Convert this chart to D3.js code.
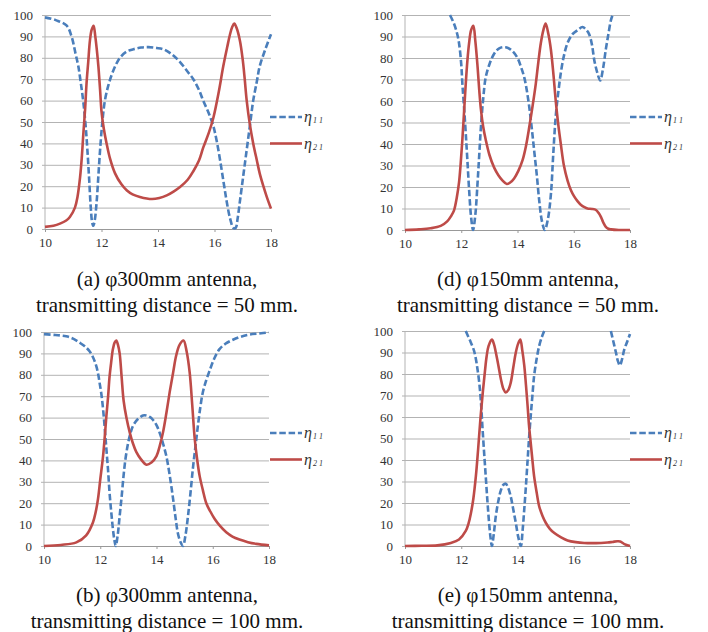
<!DOCTYPE html>
<html>
<head>
<meta charset="utf-8">
<script src="https://cdn.jsdelivr.net/npm/d3@7"></script>
<style>
  body { margin: 0; background: #fff; }
  svg { display: block; }
</style>
</head>
<body>
<div id="chart"></div>
<script>
// frequency axis and efficiency axis
var xTicks = [10, 12, 14, 16, 18];
var yTicks = [0, 10, 20, 30, 40, 50, 60, 70, 80, 90, 100];
var legendNames = ['1 1', '2 1'];

// (a) φ300mm, 50 mm
var aEta11 = [[10,98.9],[10.4,97.5],[10.77,95],[10.94,90],[11.08,82],[11.18,76],[11.27,68],[11.36,59],[11.44,48],[11.5,37],[11.56,24],[11.62,10],[11.67,3],[11.71,1.5],[11.76,4],[11.83,13],[11.89,25],[11.95,37],[12.03,50],[12.12,60],[12.24,67],[12.36,72],[12.5,76.5],[12.65,80],[12.9,83],[13.13,84],[13.4,84.8],[13.66,85],[13.95,84.6],[14.19,84],[14.5,81.5],[14.78,78],[15.05,73.5],[15.25,70],[15.45,65],[15.6,60],[15.8,54],[15.96,48],[16.08,41],[16.2,32],[16.32,22],[16.43,13],[16.55,5],[16.67,0.5],[16.75,0.5],[16.82,5],[16.9,13],[17.02,25],[17.14,37],[17.26,49],[17.37,60],[17.5,69],[17.6,76],[17.8,84],[18,91]];
var aEta21 = [[10,1],[10.3,1.5],[10.53,2.5],[10.75,4],[10.88,5.6],[11.06,10],[11.15,15],[11.24,24],[11.3,33],[11.36,45],[11.42,56],[11.47,68],[11.53,78],[11.59,88],[11.65,93],[11.72,95],[11.78,90],[11.84,83],[11.89,76],[11.95,65],[12.0,55],[12.08,47],[12.18,40],[12.3,33],[12.48,26],[12.7,21],[12.9,18],[13.1,16.2],[13.36,15],[13.78,14],[14.05,14.5],[14.31,15.7],[14.55,17.5],[14.78,19.6],[15.05,23],[15.25,27],[15.45,32],[15.6,38],[15.8,45],[15.96,52],[16.15,64],[16.31,76],[16.45,85],[16.55,91],[16.63,94.5],[16.7,96],[16.78,94],[16.9,88],[17.0,79],[17.07,70],[17.14,60],[17.25,49],[17.37,40],[17.5,32],[17.6,26],[17.73,20],[17.85,15],[18,9.5]];

// (d) φ150mm, 50 mm
var dEta11 = [[11.6,100],[11.74,96],[11.84,92],[11.92,87],[12.0,77],[12.04,68],[12.1,57],[12.16,45],[12.22,32],[12.28,18.6],[12.35,6],[12.42,0],[12.5,7],[12.58,22],[12.64,35],[12.7,48],[12.78,61],[12.87,71],[13.0,77],[13.17,82],[13.35,84.5],[13.58,85],[13.8,83.5],[14.0,80],[14.12,76],[14.24,71],[14.33,65],[14.42,57],[14.51,47],[14.6,36],[14.69,25],[14.77,14],[14.87,4],[14.97,0],[15.08,5],[15.19,17],[15.27,35],[15.36,53],[15.45,64],[15.54,73],[15.65,81],[15.78,87],[15.95,91],[16.14,93],[16.31,94.4],[16.45,93],[16.55,91],[16.65,86],[16.73,79],[16.84,73],[16.94,69.5],[17.04,75],[17.14,84],[17.23,91],[17.32,97.5],[17.38,100]];
var dEta21 = [[10,0],[10.5,0.3],[10.91,0.8],[11.27,1.9],[11.5,4],[11.64,6.5],[11.74,9],[11.84,15],[11.92,22],[11.98,31],[12.04,42],[12.1,55],[12.16,68],[12.22,79],[12.28,87],[12.35,93],[12.43,95],[12.5,88],[12.58,76],[12.64,65],[12.7,56],[12.78,48],[12.87,42],[13.0,35],[13.17,29],[13.32,25.5],[13.47,23],[13.62,21.4],[13.75,22.2],[13.88,24],[14.03,27.5],[14.18,32.5],[14.3,39],[14.42,48],[14.54,58],[14.65,68],[14.74,78],[14.83,87],[14.92,93],[15.0,96],[15.1,91],[15.19,83.6],[15.28,72],[15.36,60],[15.45,49],[15.54,40],[15.65,30],[15.78,23],[15.9,18.5],[16.02,15.5],[16.14,13.3],[16.26,11.6],[16.38,10.6],[16.49,10],[16.65,9.8],[16.79,9.3],[16.88,8],[16.97,6],[17.05,3.5],[17.14,1.5],[17.23,0.6],[17.32,0.3],[17.6,0],[18,0]];

// (b) φ300mm, 100 mm
var bEta11 = [[10,99],[10.4,98.6],[10.79,98],[11.05,96.8],[11.27,95],[11.45,93.3],[11.62,91],[11.75,88],[11.86,84],[11.93,80],[11.98,76],[12.04,71],[12.1,64],[12.16,55],[12.22,45],[12.28,35],[12.33,25],[12.39,16],[12.45,8],[12.5,3],[12.55,0],[12.62,5],[12.69,14],[12.76,23],[12.83,33],[12.9,41],[12.99,48],[13.08,53],[13.16,56],[13.28,58.5],[13.4,60],[13.52,61],[13.64,61],[13.76,60.3],[13.87,59],[14.0,56.5],[14.11,53],[14.23,48],[14.35,42],[14.47,33],[14.59,22],[14.68,13],[14.76,6],[14.85,2],[14.94,0],[15.03,5],[15.12,14],[15.21,25],[15.3,37],[15.39,47],[15.47,56],[15.56,65],[15.65,72],[15.77,77.5],[15.89,82],[16.05,87.5],[16.24,92],[16.45,94.5],[16.72,96.4],[17.0,97.8],[17.31,98.8],[17.65,99.3],[18,99.8]];
var bEta21 = [[10,0],[10.6,0.5],[11.15,1.7],[11.5,5],[11.74,11],[11.84,16],[11.92,22],[12.0,31],[12.1,42],[12.16,51],[12.22,61],[12.28,70],[12.33,79],[12.39,86],[12.45,92],[12.51,95],[12.57,96],[12.63,94],[12.69,90],[12.76,79],[12.83,68],[12.93,60],[13.05,53],[13.16,48],[13.28,44],[13.45,40.5],[13.64,38],[13.82,39],[14.0,42],[14.12,47],[14.23,53],[14.35,62],[14.47,72],[14.59,81],[14.7,89],[14.82,94],[14.96,96],[15.07,91],[15.18,81],[15.27,66],[15.36,50],[15.44,41],[15.53,33],[15.65,26],[15.77,20],[15.92,16],[16.07,12.6],[16.25,9.5],[16.48,6.4],[16.7,4.4],[16.95,3],[17.25,1.8],[17.55,1],[18,0.3]];

// (e) φ150mm, 100 mm  (null = curve above 100, off the chart)
var eEta11 = [[12.16,100],[12.34,94.7],[12.45,91],[12.52,87],[12.58,82],[12.64,76],[12.7,67],[12.75,56],[12.81,44],[12.87,32.5],[12.93,21],[12.99,10.7],[13.04,4],[13.09,0],[13.16,6],[13.23,14],[13.32,21],[13.41,26],[13.5,28.5],[13.58,29],[13.67,27],[13.76,23],[13.85,17],[13.94,10.7],[14.03,4],[14.12,0],[14.18,7],[14.24,17],[14.3,28],[14.36,40],[14.41,50],[14.47,60.5],[14.53,70],[14.59,79],[14.68,87],[14.77,93],[14.86,97],[14.95,100],[16,null],[17.32,100],[17.41,95],[17.5,90],[17.57,86],[17.64,84],[17.72,87],[17.8,91.6],[17.9,95],[18,98.6]];
var eEta21 = [[10,0],[10.6,0.1],[11.15,0.3],[11.63,1.4],[11.92,3],[12.16,7],[12.26,10.5],[12.34,15],[12.43,22],[12.52,32.5],[12.6,45],[12.69,60.5],[12.77,72],[12.84,81],[12.9,88],[12.97,93],[13.09,96],[13.16,94],[13.23,90],[13.32,84],[13.41,77.6],[13.5,73],[13.58,71.4],[13.67,72.5],[13.76,76],[13.85,83],[13.94,90],[14.02,94],[14.1,96],[14.17,91],[14.24,84],[14.3,75],[14.36,65],[14.41,56],[14.47,48],[14.53,40],[14.59,32.5],[14.68,25],[14.77,18.5],[14.89,14],[15.01,10.7],[15.15,8],[15.31,6],[15.55,4],[15.78,2.6],[16.07,1.8],[16.37,1.4],[16.97,1.4],[17.2,1.6],[17.38,1.9],[17.55,2.2],[17.65,2.1],[17.8,0.9],[18,0]];

var captionsA = ['(a) φ300mm antenna,', '(d) φ150mm antenna,', '(b) φ300mm antenna,', '(e) φ150mm antenna,'];
var captionsB = ['transmitting distance = 50 mm.', 'transmitting distance = 50 mm.', 'transmitting distance = 100 mm.', 'transmitting distance = 100 mm.'];

var panels = [
  { x0: 45, x1: 271, top: 15, bottom: 229, lx: 270, ly: 117, cx: 167, cy: 286, s11: aEta11, s21: aEta21 },
  { x0: 405, x1: 630, top: 15, bottom: 230, lx: 630, ly: 117, cx: 528, cy: 286, s11: dEta11, s21: dEta21 },
  { x0: 44, x1: 269, top: 332, bottom: 546, lx: 270, ly: 433, cx: 167, cy: 602, s11: bEta11, s21: bEta21 },
  { x0: 405, x1: 630, top: 331, bottom: 546, lx: 630, ly: 433, cx: 528, cy: 602, s11: eEta11, s21: eEta21 }
];

var blue = '#4a7ebb';
var red = '#be4b48';
var grid = '#b3b3b3';
var serif = 'Liberation Serif';

var svg = d3.select('#chart')
  .append('svg')
  .attr('width', 708)
  .attr('height', 632)
  .attr('font-family', serif);

panels.forEach(function(p, i) {
  var x = d3.scaleLinear().domain([10, 18]).range([p.x0, p.x1]);
  var y = d3.scaleLinear().domain([0, 100]).range([p.bottom, p.top]);
  var g = svg.append('g');

  g.append('clipPath').attr('id', 'clip' + i)
    .append('rect')
    .attr('x', p.x0 - 2).attr('y', p.top - 1)
    .attr('width', p.x1 - p.x0 + 4).attr('height', p.bottom - p.top + 3);

  // gridlines + y labels
  var yAxis = d3.axisLeft(y).tickValues(yTicks).tickSize(-(p.x1 - p.x0 + 3)).tickPadding(9);
  var ya = g.append('g')
    .attr('transform', 'translate(' + (p.x0 - 3) + ',0)')
    .call(yAxis)
    .attr('font-family', serif)
    .attr('font-size', 13);
  ya.select('.domain').remove();
  ya.selectAll('line').attr('stroke', grid).attr('x1', 0).attr('x2', p.x1 - p.x0 + 3);
  ya.selectAll('text').attr('fill', '#333');

  // left axis line
  g.append('line')
    .attr('x1', p.x0).attr('x2', p.x0)
    .attr('y1', p.top).attr('y2', p.bottom)
    .attr('stroke', grid);

  var xAxis = d3.axisBottom(x).tickValues(xTicks).tickSize(3).tickPadding(6);
  var xa = g.append('g')
    .attr('transform', 'translate(0,' + p.bottom + ')')
    .call(xAxis)
    .attr('font-family', serif)
    .attr('font-size', 13);
  xa.select('.domain').attr('stroke', '#999');
  xa.selectAll('line').attr('stroke', '#999');
  xa.selectAll('text').attr('fill', '#333');

  var line = d3.line()
    .defined(function(d) { return d[1] != null; })
    .x(function(d) { return x(d[0]); })
    .y(function(d) { return y(d[1]); })
    .curve(d3.curveCatmullRom.alpha(0.5));

  var plot = g.append('g').attr('clip-path', 'url(#clip' + i + ')');
  plot.append('path')
    .attr('d', line(p.s11))
    .attr('fill', 'none')
    .attr('stroke', blue)
    .attr('stroke-width', 2.6)
    .attr('stroke-dasharray', '6.5,2.8');
  plot.append('path')
    .attr('d', line(p.s21))
    .attr('fill', 'none')
    .attr('stroke', red)
    .attr('stroke-width', 2.6);

  // legend
  [blue, red].forEach(function(c, k) {
    var ly = p.ly + k * 26.5;
    g.append('line')
      .attr('x1', p.lx).attr('x2', p.lx + 32)
      .attr('y1', ly).attr('y2', ly)
      .attr('stroke', c)
      .attr('stroke-width', 2.6)
      .attr('stroke-dasharray', k === 0 ? '6.5,2.8' : null);
    var t = g.append('text')
      .attr('x', p.lx + 34).attr('y', ly + 5)
      .attr('fill', '#333')
      .attr('font-style', 'italic');
    t.append('tspan').attr('font-size', 16).text('η');
    t.append('tspan').attr('dx', 1).attr('dy', 1).attr('font-size', 8).attr('xml:space', 'preserve').text(legendNames[k]);
  });

  // caption
  var cap = g.append('text')
    .attr('text-anchor', 'middle')
    .attr('fill', '#111')
    .attr('font-size', 21);
  cap.append('tspan').attr('x', p.cx).attr('y', p.cy).text(captionsA[i]);
  cap.append('tspan').attr('x', p.cx).attr('y', p.cy + 26).text(captionsB[i]);
});
</script>
</body>
</html>
